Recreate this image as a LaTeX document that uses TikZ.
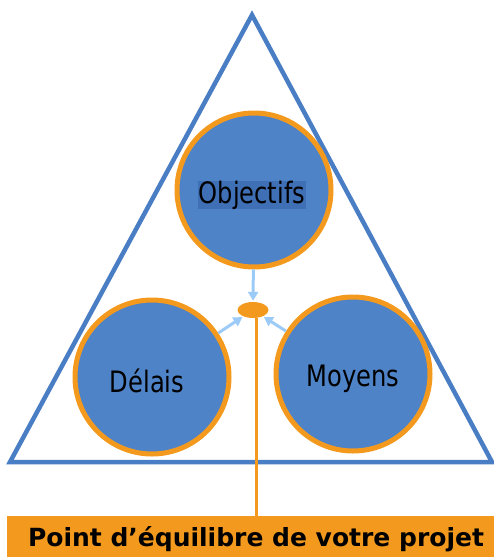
\documentclass[tikz,border=0pt]{standalone}
\usepackage{fontspec}
\setmainfont{DejaVu Sans}
\usetikzlibrary{arrows.meta,shapes.geometric}
\definecolor{triblue}{HTML}{4A7EC4}
\definecolor{cfill}{HTML}{4F83C7}
\definecolor{corange}{HTML}{F39A1E}
\definecolor{arrblue}{HTML}{9DCBF7}
\definecolor{hlblue}{HTML}{3F70B6}
\tikzset{
  bigcircle/.style={circle, draw=corange, line width=5pt, fill=cfill, minimum size=154pt, inner sep=0pt},
  lbl/.style={inner sep=0pt, font=\fontsize{29.5}{29.5}\selectfont},
  arr/.style={draw=arrblue, line width=3pt, -{Triangle[length=9pt,width=10pt]}, shorten <=0pt, shorten >=1pt},
}
\newcommand{\squeeze}[1]{\scalebox{0.82}[1]{#1}}
\begin{document}
\begin{tikzpicture}[x=1pt,y=-1pt]
\useasboundingbox (0,0) rectangle (494,557);
% triangle
\draw[triblue, line width=4.5pt, line join=miter] (252,15) -- (10,462) -- (492,462) -- cycle;
% circles
\node[bigcircle] (obj) at (254,190) {};
\node[bigcircle] (del) at (152,377) {};
\node[bigcircle] (moy) at (353,374) {};
% labels
\node[lbl, fill=hlblue, minimum width=108pt, minimum height=28pt] (objt) at (252,195) {\squeeze{Objectifs}};
\node[lbl] (delt) at (147,381) {\squeeze{Délais}};
\node[lbl] (moyt) at (353,379) {\squeeze{Moyens}};
% equilibrium point
\node[ellipse, fill=corange, minimum width=31pt, minimum height=16pt, inner sep=0pt] (pt) at (253,310) {};
% arrows
\draw[arr] (obj) -- (pt);
\draw[arr] (del) -- (pt);
\draw[arr] (moy) -- (pt);
% banner
\node[fill=corange, minimum width=487pt, minimum height=41pt, anchor=north west, inner sep=0pt] (ban) at (7,516) {};
\draw[corange, line width=3pt] ([xshift=3pt]pt.south) -- ([xshift=3pt]pt.south |- ban.north);
\node[anchor=base, inner sep=0pt, font=\bfseries\fontsize{25}{25}\selectfont] (bant) at (256,546) {Point d’équilibre de votre projet};
\end{tikzpicture}
\end{document}
